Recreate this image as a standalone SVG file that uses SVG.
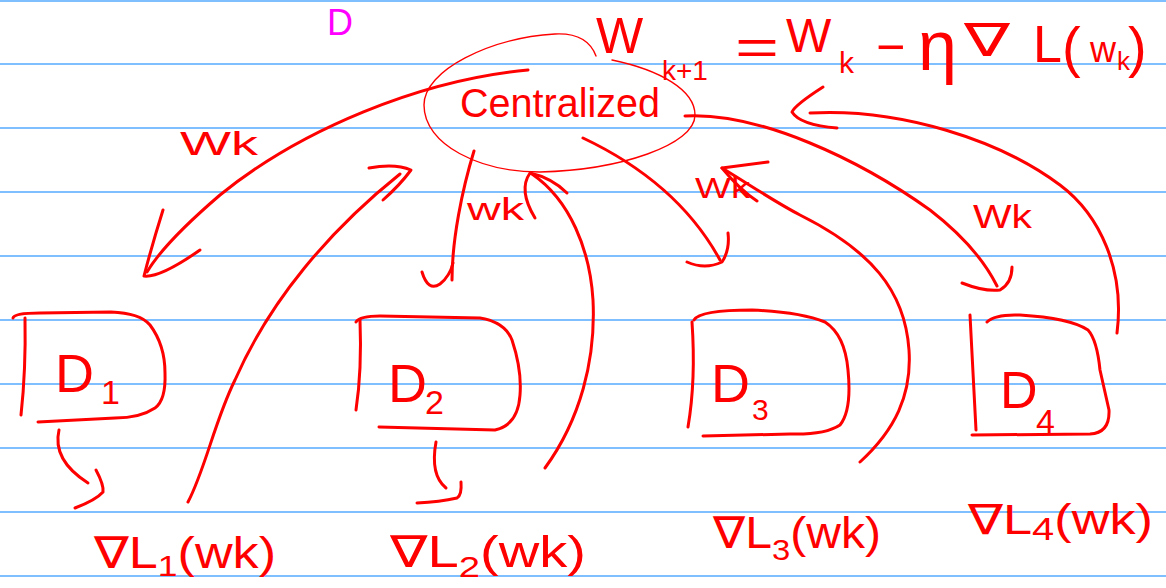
<svg xmlns="http://www.w3.org/2000/svg" width="1166" height="588" viewBox="0 0 1166 588">
<style>
.rule{stroke:#80bfff;stroke-width:2.2}
.ink{fill:none;stroke:#ff0000;stroke-width:3;stroke-linecap:round;stroke-linejoin:round}
.thin{fill:none;stroke:#ff0000;stroke-width:1.4;stroke-linecap:round}
.t{font-family:"Liberation Sans","DejaVu Sans",sans-serif;fill:#ff0000}
</style>
<rect width="1166" height="588" fill="#ffffff"/>
<g id="paper">
<line class="rule" x1="0" y1="1" x2="1166" y2="1"/>
<line class="rule" x1="0" y1="64" x2="1166" y2="64"/>
<line class="rule" x1="0" y1="128" x2="1166" y2="128"/>
<line class="rule" x1="0" y1="192" x2="1166" y2="192"/>
<line class="rule" x1="0" y1="256" x2="1166" y2="256"/>
<line class="rule" x1="0" y1="320" x2="1166" y2="320"/>
<line class="rule" x1="0" y1="384" x2="1166" y2="384"/>
<line class="rule" x1="0" y1="448" x2="1166" y2="448"/>
<line class="rule" x1="0" y1="512" x2="1166" y2="512"/>
<line class="rule" x1="0" y1="576" x2="1166" y2="576"/>
</g>
<text x="327" y="35" font-size="36" font-family="Liberation Sans, sans-serif" fill="#ff00ff">D</text>
<g id="equation" class="t">
<text x="596" y="53" font-size="50">W</text>
<text x="662" y="80" font-size="28">k+1</text>
<text x="735" y="64" font-size="50" textLength="44" lengthAdjust="spacingAndGlyphs">=</text>
<text x="786" y="52" font-size="48">W</text>
<text x="839" y="73" font-size="30">k</text>
<text x="876" y="64" font-size="50">−</text>
<text x="918" y="70" font-size="70">η</text>
<text x="964" y="56" font-size="46" textLength="46" lengthAdjust="spacingAndGlyphs">∇</text>
<text x="1033" y="62" font-size="52">L</text>
<text x="1062" y="66" font-size="56">(</text>
<text x="1090" y="62" font-size="36">w</text>
<text x="1117" y="70" font-size="26">k</text>
<text x="1128" y="66" font-size="56">)</text>
</g>
<g id="central">
<path class="thin" d="M596,56 C590,40 575,33 555,34 C490,38 424,70 424,105 C424,145 480,172 540,172 C620,170 695,145 695,115 C695,90 660,70 612,60"/>
<text class="t" x="460" y="117" font-size="40" textLength="200" lengthAdjust="spacingAndGlyphs">Centralized</text>
</g>
<g id="D1">
<path class="ink" d="M13,318 Q14,313 40,313 L111,312 Q140,313 150,325 Q165,345 165,373 Q166,400 155,408 Q140,418 115,418 L38,422"/>
<path class="ink" d="M25,318 Q26,370 21,415"/>
<text class="t" x="55" y="392" font-size="54">D</text>
<text class="t" x="101" y="404" font-size="34">1</text>
</g>
<g id="D2">
<path class="ink" d="M356,322 Q360,316 380,316 L480,318 Q505,322 512,340 Q522,370 520,395 Q518,425 495,430 L379,427"/>
<path class="ink" d="M360,320 Q362,370 356,410"/>
<text class="t" x="388" y="402" font-size="54">D</text>
<text class="t" x="425" y="414" font-size="34">2</text>
</g>
<g id="D3">
<path class="ink" d="M694,320 Q700,310 752,310 Q800,312 825,322 Q845,335 848,370 Q852,410 840,425 Q825,435 790,434 L703,436"/>
<path class="ink" d="M692,322 Q696,380 688,427"/>
<text class="t" x="711" y="402" font-size="54">D</text>
<text class="t" x="752" y="420" font-size="30">3</text>
</g>
<g id="D4">
<path class="ink" d="M987,322 Q995,314 1020,315 Q1070,318 1088,330 Q1097,340 1100,370 L1109,410 Q1110,433 1090,434 L972,435"/>
<path class="ink" d="M970,315 L976,430"/>
<text class="t" x="1000" y="408" font-size="52">D</text>
<text class="t" x="1036" y="433" font-size="34">4</text>
</g>
<g id="gradients" class="t">
<text x="94" y="568" font-size="44" textLength="182" lengthAdjust="spacingAndGlyphs">∇L<tspan font-size="30" dy="8">1</tspan><tspan dy="-8">(wk)</tspan></text>
<text x="390" y="567" font-size="44" textLength="196" lengthAdjust="spacingAndGlyphs">∇L<tspan font-size="30" dy="10">2</tspan><tspan dy="-10">(wk)</tspan></text>
<text x="713" y="548" font-size="44" textLength="168" lengthAdjust="spacingAndGlyphs">∇L<tspan font-size="30" dy="12">3</tspan><tspan dy="-12">(wk)</tspan></text>
<text x="968" y="534" font-size="42" textLength="185" lengthAdjust="spacingAndGlyphs">∇L<tspan font-size="32" dy="6">4</tspan><tspan dy="-6">(wk)</tspan></text>
</g>
<g id="connectors" class="ink">
<path d="M528,70 C420,80 300,130 220,195 C185,225 160,250 147,272"/>
<path d="M163,210 Q152,245 144,276 Q160,278 200,250"/>
<path d="M188,502 C205,470 215,420 235,380 C270,300 330,230 400,174"/>
<path d="M369,168 Q395,163 411,170 Q400,185 383,200"/>
<path d="M474,151 C462,190 452,240 452,280"/>
<path d="M422,272 Q428,292 440,284 Q450,276 453,263"/>
<path d="M545,468 C580,420 596,360 593,300 C590,250 570,200 532,174"/>
<path d="M530,173 Q518,190 535,218 M530,173 Q552,178 567,193"/>
<path d="M583,138 C640,165 690,205 720,260"/>
<path d="M687,262 Q705,270 722,262 Q730,250 728,233"/>
<path d="M860,462 C895,430 912,395 909,350 C905,290 870,250 800,215 C775,202 750,185 722,168"/>
<path d="M722,168 L768,162 M722,168 Q740,190 757,201"/>
<path d="M685,116 C760,112 860,160 930,210 C965,237 985,262 997,286"/>
<path d="M962,283 Q985,292 1000,290 Q1012,283 1012,267"/>
<path d="M1117,333 C1125,270 1100,215 1060,185 C1000,140 900,108 810,113"/>
<path d="M823,87 Q795,105 792,112 Q800,125 837,128"/>
<path d="M59,430 Q52,460 88,483"/>
<path d="M96,470 Q104,485 103,492 Q96,500 75,508"/>
<path d="M436,442 Q430,475 446,488"/>
<path d="M461,482 Q462,495 457,498 Q440,502 417,503"/>
</g>
<g id="labels" class="t">
<text x="180" y="155" font-size="34" textLength="78" lengthAdjust="spacingAndGlyphs">Wk</text>
<text x="467" y="220" font-size="32" textLength="57" lengthAdjust="spacingAndGlyphs">wk</text>
<text x="695" y="198" font-size="30" textLength="55" lengthAdjust="spacingAndGlyphs">Wk</text>
<text x="973" y="228" font-size="34" textLength="59" lengthAdjust="spacingAndGlyphs">Wk</text>
</g>
</svg>
